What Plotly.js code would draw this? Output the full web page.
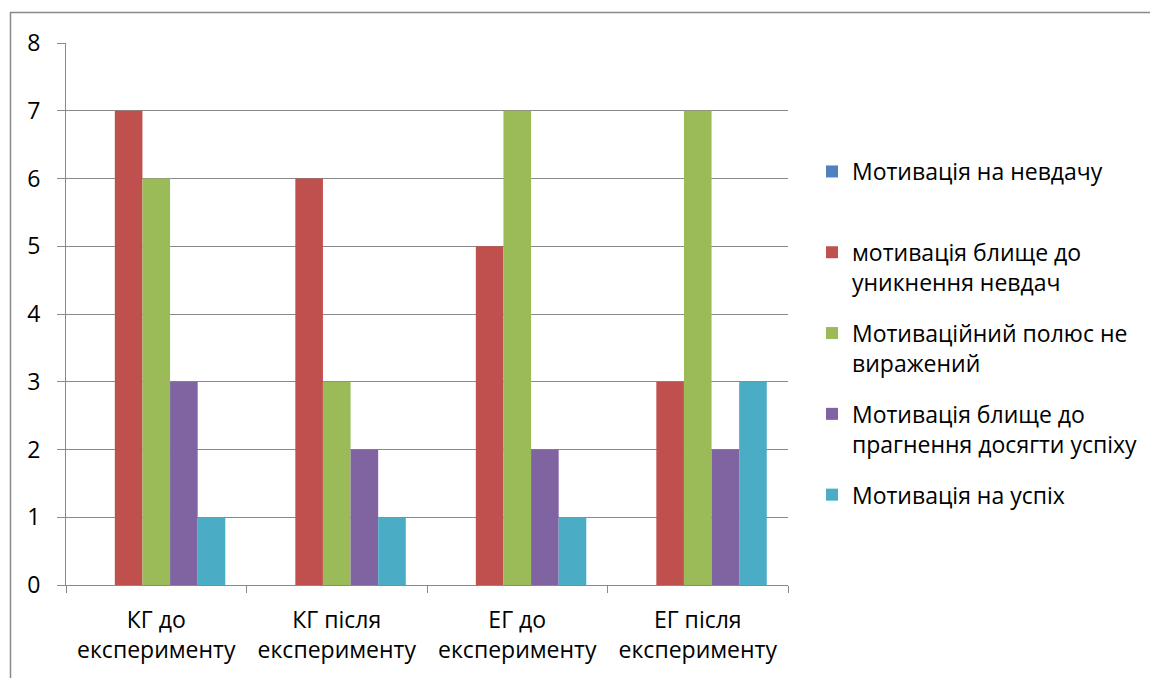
<!DOCTYPE html>
<html>
<head>
<meta charset="utf-8">
<script src="https://cdn.plot.ly/plotly-3.0.1.min.js"></script>
<style>html,body{margin:0;padding:0;background:#fff;}#chart{width:1150px;height:678px;}</style>
</head>
<body>
<div id="chart"></div>
<script>
const categories = ["КГ до<br>експерименту", "КГ після<br>експерименту", "ЕГ до<br>експерименту", "ЕГ після<br>експерименту"];
const seriesNames = [
  "Мотивація на невдачу<br>&nbsp;",
  "мотивація блище до<br>уникнення невдач",
  "Мотиваційний полюс не<br>виражений",
  "Мотивація блище до<br>прагнення досягти успіху",
  "Мотивація на успіх"
];
const failureMotivation = [0, 0, 0, 0];
const avoidFailure = [7, 6, 5, 3];
const poleNotExpressed = [6, 3, 7, 7];
const towardSuccess = [3, 2, 2, 2];
const successMotivation = [1, 1, 1, 3];
const colors = ["#4F81BD", "#C0504D", "#9BBB59", "#8064A2", "#4BACC6"];
const seriesValues = [failureMotivation, avoidFailure, poleNotExpressed, towardSuccess, successMotivation];

const traces = seriesValues.map((vals, i) => ({
  type: "bar",
  x: categories,
  y: vals,
  name: seriesNames[i],
  legendgroup: "g" + i,
  marker: {color: colors[i], line: {width: 0}},
  hoverinfo: "y+name"
}));

const gray = "#898989";
const L = 66, R = 362, T = 43, B = 93;
const pw = 1150 - L - R, ph = 678 - T - B;
const px = v => (v - L) / pw;
const py = v => 1 - (v - T) / ph;

const layout = {
  width: 1150, height: 678,
  margin: {l: L, r: R, t: T, b: B, pad: 0, autoexpand: false},
  paper_bgcolor: "#fff", plot_bgcolor: "#fff",
  font: {family: "Open Sans, sans-serif", size: 23, color: "#000"},
  barmode: "group",
  bargap: 0.235,
  bargroupgap: 0,
  showlegend: true,
  legend: {
    x: px(812), y: py(150), xanchor: "left", yanchor: "top",
    font: {size: 23, color: "#000"},
    valign: "top",
    tracegroupgap: 18,
    traceorder: "grouped",
    bgcolor: "rgba(0,0,0,0)"
  },
  xaxis: {
    type: "category",
    showline: true, linecolor: gray, linewidth: 1,
    ticks: "outside", ticklen: 7, tickcolor: gray, tickwidth: 1,
    tickson: "boundaries",
    showgrid: false,
    tickfont: {size: 23},
    ticklabelstandoff: 14,
    automargin: false,
    fixedrange: true
  },
  yaxis: {
    range: [0, 8], dtick: 1, tick0: 0,
    showline: true, linecolor: gray, linewidth: 1,
    ticks: "outside", ticklen: 8, tickcolor: gray, tickwidth: 1,
    showgrid: true, gridcolor: gray, gridwidth: 1,
    zeroline: false,
    tickfont: {size: 23},
    ticklabelstandoff: 12,
    automargin: false,
    fixedrange: true
  },
  shapes: [
    {type: "line", xref: "paper", yref: "paper", x0: px(10), x1: px(1150), y0: py(12.5), y1: py(12.5), line: {color: gray, width: 1.5}},
    {type: "line", xref: "paper", yref: "paper", x0: px(10.5), x1: px(10.5), y0: py(12), y1: py(678), line: {color: gray, width: 1.5}}
  ]
};

Plotly.newPlot("chart", traces, layout, {displayModeBar: false});
</script>
</body>
</html>
